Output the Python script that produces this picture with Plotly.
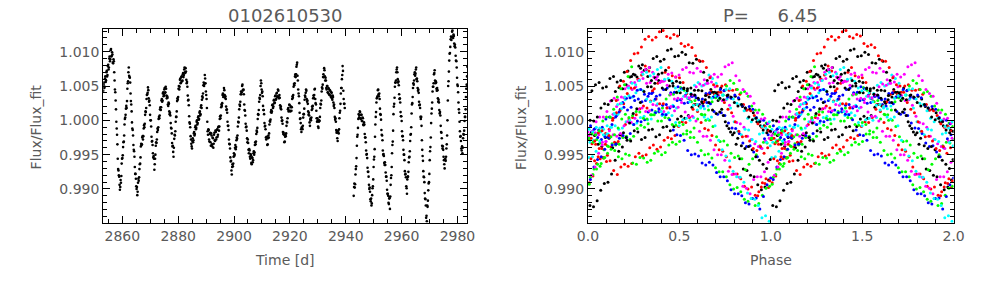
import numpy as np
import plotly.graph_objects as go

# ---------------- data ----------------
title_left = "0102610530"
title_right = "P=\u00a0\u00a0\u00a0\u00a0\u00a06.45"
period = 6.45
epoch = 2853.01         # zero point of the phase fold
cadence = 0.2544        # days between samples of one pass
seg_a_start = 2853.15   # first segment (before the gap)
seg_b_start = 2942.85   # second segment (after the gap)

# pass 1: samples at start + k*cadence
flux_a = [
    1.0043, 1.0055, 1.0049, 1.0064, 1.0058, 1.0072, 1.0066, 1.0081, 1.0077, 1.0093,
    1.0089, 1.0104, 1.0094, 1.0096, 1.0083, 1.0086, 1.0058, 1.0041, 1.0016, 0.9988,
    0.9965, 0.9929, 0.9920, 0.9906, 0.9903, 0.9909, 0.9937, 0.9945, 0.9961, 0.9969,
    0.9994, 1.0004, 1.0017, 1.0018, 1.0046, 1.0057, 1.0077, 1.0063, 1.0055, 1.0028,
    1.0013, 0.9988, 0.9978, 0.9957, 0.9947, 0.9922, 0.9915, 0.9900, 0.9891, 0.9909,
    0.9912, 0.9929, 0.9937, 0.9962, 0.9964, 0.9975, 0.9972, 0.9988, 0.9990, 1.0008,
    1.0012, 1.0031, 1.0038, 1.0048, 1.0032, 1.0029, 1.0008, 1.0000, 0.9976, 0.9970,
    0.9952, 0.9948, 0.9928, 0.9944, 0.9963, 0.9967, 0.9983, 0.9986, 1.0002, 1.0003,
    1.0016, 1.0015, 1.0029, 1.0027, 1.0039, 1.0035, 1.0045, 1.0040, 1.0049, 1.0036,
    1.0035, 1.0023, 1.0026, 1.0013, 1.0011, 0.9996, 0.9988, 0.9967, 0.9963, 0.9947,
    0.9973, 0.9978, 0.9998, 1.0005, 1.0028, 1.0030, 1.0046, 1.0045, 1.0059, 1.0054,
    1.0063, 1.0057, 1.0067, 1.0063, 1.0074, 1.0070, 1.0076, 1.0059, 1.0056, 1.0036,
    1.0030, 1.0006, 0.9995, 0.9977, 0.9966, 0.9959, 0.9974, 0.9971, 0.9983, 0.9980,
    0.9992, 0.9989, 1.0000, 0.9996, 1.0006, 1.0002, 1.0013, 1.0009, 1.0022, 1.0030,
    1.0033, 1.0051, 1.0050, 1.0066, 1.0054, 1.0037, 1.0018, 0.9984, 0.9987, 0.9972,
    0.9980, 0.9968, 0.9981, 0.9965, 0.9975, 0.9960, 0.9979, 0.9971, 0.9985, 0.9972,
    0.9986, 0.9976, 0.9990, 0.9985, 1.0002, 1.0003, 1.0019, 1.0021, 1.0037, 1.0034,
    1.0047, 1.0037, 1.0035, 1.0020, 1.0016, 0.9998, 0.9992, 0.9972, 0.9965, 0.9946,
    0.9941, 0.9921, 0.9936, 0.9937, 0.9952, 0.9950, 0.9964, 0.9961, 0.9975, 0.9978,
    0.9998, 1.0004, 1.0023, 1.0027, 1.0042, 1.0041, 1.0052, 1.0044, 1.0038, 1.0015,
    1.0007, 0.9990, 0.9985, 0.9968, 0.9967, 0.9952, 0.9956, 0.9944, 0.9949, 0.9936,
    0.9945, 0.9942, 0.9955, 0.9953, 0.9968, 0.9969, 0.9985, 0.9989, 1.0009, 1.0015,
    1.0033, 1.0037, 1.0058, 1.0045, 1.0042, 1.0021, 1.0015, 0.9996, 0.9992, 0.9975,
    0.9976, 0.9964, 0.9974, 0.9975, 0.9994, 0.9998, 1.0012, 1.0011, 1.0022, 1.0018,
    1.0029, 1.0025, 1.0035, 1.0030, 1.0039, 1.0034, 1.0045, 1.0034, 1.0037, 1.0022,
    1.0020, 1.0004, 1.0000, 0.9983, 0.9982, 0.9968, 0.9976, 0.9977, 0.9992, 0.9997,
    1.0016, 1.0013, 1.0023, 1.0014, 1.0019, 1.0014, 1.0031, 1.0033, 1.0049, 1.0051,
    1.0064, 1.0063, 1.0078, 1.0084, 1.0058, 1.0039, 1.0025, 1.0002, 0.9996, 0.9983,
    0.9989, 0.9992, 1.0009, 1.0017, 1.0036, 1.0040, 1.0043, 1.0027, 1.0024, 1.0008,
    1.0007, 0.9992, 1.0003, 1.0004, 1.0020, 1.0021, 1.0036, 1.0037, 1.0046, 1.0025,
    1.0014, 0.9998, 1.0000, 0.9989, 1.0000, 1.0005, 1.0024, 1.0029, 1.0048, 1.0052,
    1.0067, 1.0076, 1.0064, 1.0062, 1.0047, 1.0050, 1.0041, 1.0047, 1.0038, 1.0044,
    1.0036, 1.0041, 1.0032, 1.0036, 1.0026, 1.0023, 1.0005, 1.0003, 0.9986, 0.9984,
    0.9970, 0.9985, 0.9987, 1.0011, 1.0024, 1.0047, 1.0060, 1.0079, 1.0043, 1.0024,
    1.0018,
]

flux_b = [
    0.9890, 0.9908, 0.9907, 0.9929, 0.9945, 0.9976, 0.9989, 1.0009, 1.0007, 1.0012,
    1.0002, 1.0008, 0.9999, 1.0003, 0.9993, 0.9994, 0.9975, 0.9968, 0.9950, 0.9945,
    0.9925, 0.9918, 0.9900, 0.9896, 0.9882, 0.9876, 0.9891, 0.9904, 0.9932, 0.9947,
    0.9976, 1.0005, 1.0026, 1.0033, 1.0044, 1.0038, 1.0039, 1.0017, 1.0008, 0.9986,
    0.9978, 0.9956, 0.9951, 0.9938, 0.9939, 0.9924, 0.9918, 0.9899, 0.9893, 0.9880,
    0.9886, 0.9871, 0.9906, 0.9920, 0.9952, 0.9969, 1.0009, 1.0024, 1.0049, 1.0055,
    1.0070, 1.0077, 1.0060, 1.0057, 1.0038, 1.0032, 1.0012, 1.0006, 0.9984, 0.9977,
    0.9957, 0.9950, 0.9926, 0.9922, 0.9904, 0.9893, 0.9918, 0.9925, 0.9946, 0.9955,
    0.9979, 0.9990, 1.0023, 1.0034, 1.0054, 1.0058, 1.0070, 1.0068, 1.0077, 1.0061,
    1.0047, 1.0045, 1.0027, 1.0023, 1.0005, 1.0005, 0.9971, 0.9948, 0.9926, 0.9917,
    0.9894, 0.9885, 0.9858, 0.9853, 0.9874, 0.9898, 0.9910, 0.9942, 0.9961, 0.9996,
    1.0017, 1.0042, 1.0049, 1.0067, 1.0073, 1.0054, 1.0055, 1.0043, 1.0044, 1.0027,
    1.0026, 1.0010, 1.0007, 0.9983, 0.9974, 0.9959, 0.9957, 0.9942, 0.9930, 0.9944,
    0.9947, 0.9965, 1.0000, 1.0050, 1.0071, 1.0097, 1.0107, 1.0122, 1.0121, 1.0131,
    1.0120, 1.0123, 1.0108, 1.0106, 1.0087, 1.0077, 1.0052, 1.0041, 1.0016, 0.9998,
    0.9976, 0.9970, 0.9956, 0.9952, 0.9974, 0.9979, 0.9999, 1.0005, 1.0034, 1.0052,
    1.0078,
]

# pass 2: samples half a cadence later
flux_a2 = [
    1.0052, 1.0047, 1.0061, 1.0056, 1.0070, 1.0064, 1.0079, 1.0074, 1.0090, 1.0086,
    1.0102, 1.0093, 1.0099, 1.0084, 1.0089, 1.0070, 1.0045, 1.0029, 0.9998, 0.9979,
    0.9944, 0.9927, 0.9918, 0.9899, 0.9913, 0.9919, 0.9944, 0.9949, 0.9968, 0.9978,
    1.0002, 1.0008, 1.0021, 1.0028, 1.0054, 1.0070, 1.0065, 1.0062, 1.0039, 1.0023,
    0.9997, 0.9986, 0.9964, 0.9955, 0.9932, 0.9922, 0.9904, 0.9903, 0.9896, 0.9915,
    0.9917, 0.9936, 0.9946, 0.9966, 0.9965, 0.9977, 0.9977, 0.9993, 0.9995, 1.0013,
    1.0018, 1.0037, 1.0040, 1.0044, 1.0027, 1.0022, 1.0000, 0.9991, 0.9969, 0.9964,
    0.9946, 0.9944, 0.9936, 0.9950, 0.9968, 0.9972, 0.9988, 0.9990, 1.0005, 1.0007,
    1.0019, 1.0019, 1.0031, 1.0029, 1.0041, 1.0037, 1.0047, 1.0041, 1.0046, 1.0032,
    1.0033, 1.0021, 1.0024, 1.0009, 1.0007, 0.9989, 0.9981, 0.9962, 0.9954, 0.9960,
    0.9979, 0.9984, 1.0005, 1.0013, 1.0032, 1.0034, 1.0050, 1.0049, 1.0061, 1.0055,
    1.0064, 1.0058, 1.0069, 1.0066, 1.0077, 1.0069, 1.0071, 1.0054, 1.0049, 1.0029,
    1.0022, 0.9997, 0.9990, 0.9972, 0.9962, 0.9970, 0.9968, 0.9981, 0.9978, 0.9990,
    0.9987, 0.9998, 0.9994, 1.0004, 1.0001, 1.0011, 1.0007, 1.0019, 1.0018, 1.0035,
    1.0039, 1.0055, 1.0053, 1.0061, 1.0042, 1.0031, 0.9998, 0.9979, 0.9986, 0.9969,
    0.9982, 0.9963, 0.9978, 0.9962, 0.9974, 0.9966, 0.9982, 0.9970, 0.9983, 0.9975,
    0.9987, 0.9979, 0.9991, 0.9991, 1.0006, 1.0007, 1.0023, 1.0025, 1.0039, 1.0037,
    1.0044, 1.0033, 1.0031, 1.0015, 1.0011, 0.9992, 0.9986, 0.9966, 0.9959, 0.9940,
    0.9927, 0.9932, 0.9933, 0.9947, 0.9948, 0.9960, 0.9958, 0.9971, 0.9973, 0.9991,
    0.9997, 1.0016, 1.0021, 1.0038, 1.0038, 1.0050, 1.0044, 1.0045, 1.0023, 1.0014,
    0.9995, 0.9991, 0.9974, 0.9972, 0.9957, 0.9958, 0.9947, 0.9951, 0.9938, 0.9946,
    0.9939, 0.9952, 0.9950, 0.9964, 0.9965, 0.9980, 0.9983, 1.0002, 1.0008, 1.0027,
    1.0031, 1.0050, 1.0054, 1.0040, 1.0035, 1.0015, 1.0009, 0.9991, 0.9987, 0.9972,
    0.9975, 0.9965, 0.9978, 0.9981, 0.9999, 1.0001, 1.0015, 1.0013, 1.0023, 1.0020,
    1.0030, 1.0026, 1.0036, 1.0031, 1.0040, 1.0035, 1.0043, 1.0032, 1.0033, 1.0018,
    1.0016, 0.9999, 0.9995, 0.9980, 0.9979, 0.9969, 0.9979, 0.9981, 0.9998, 1.0003,
    1.0018, 1.0014, 1.0022, 1.0013, 1.0020, 1.0019, 1.0035, 1.0037, 1.0053, 1.0054,
    1.0067, 1.0067, 1.0081, 1.0065, 1.0045, 1.0035, 1.0011, 1.0003, 0.9987, 0.9990,
    0.9987, 1.0004, 1.0009, 1.0030, 1.0034, 1.0045, 1.0031, 1.0029, 1.0013, 1.0011,
    0.9997, 1.0001, 1.0000, 1.0015, 1.0017, 1.0032, 1.0033, 1.0045, 1.0031, 1.0023,
    1.0003, 1.0003, 0.9991, 0.9998, 0.9999, 1.0018, 1.0023, 1.0042, 1.0046, 1.0063,
    1.0063, 1.0073, 1.0058, 1.0058, 1.0045, 1.0050, 1.0040, 1.0046, 1.0037, 1.0043,
    1.0034, 1.0040, 1.0030, 1.0034, 1.0021, 1.0018, 1.0001, 0.9998, 0.9982, 0.9974,
    0.9982, 0.9981, 1.0003, 1.0014, 1.0039, 1.0047, 1.0066, 1.0072, 1.0031, 1.0024,
]

flux_b2 = [
    0.9903, 0.9902, 0.9921, 0.9933, 0.9963, 0.9979, 1.0002, 1.0004, 1.0013, 1.0003,
    1.0008, 0.9999, 1.0004, 0.9994, 0.9997, 0.9980, 0.9975, 0.9956, 0.9951, 0.9931,
    0.9925, 0.9906, 0.9902, 0.9885, 0.9886, 0.9879, 0.9901, 0.9914, 0.9943, 0.9958,
    0.9994, 1.0012, 1.0032, 1.0035, 1.0045, 1.0035, 1.0031, 1.0009, 1.0001, 0.9979,
    0.9971, 0.9950, 0.9948, 0.9935, 0.9935, 0.9918, 0.9912, 0.9893, 0.9890, 0.9878,
    0.9887, 0.9889, 0.9916, 0.9932, 0.9964, 0.9985, 1.0020, 1.0033, 1.0055, 1.0058,
    1.0074, 1.0070, 1.0055, 1.0051, 1.0031, 1.0026, 1.0006, 0.9999, 0.9977, 0.9971,
    0.9950, 0.9942, 0.9921, 0.9917, 0.9901, 0.9914, 0.9918, 0.9939, 0.9947, 0.9970,
    0.9980, 1.0010, 1.0025, 1.0047, 1.0052, 1.0067, 1.0065, 1.0074, 1.0060, 1.0057,
    1.0043, 1.0040, 1.0022, 1.0018, 1.0002, 0.9992, 0.9957, 0.9941, 0.9918, 0.9910,
    0.9886, 0.9876, 0.9861, 0.9876, 0.9883, 0.9908, 0.9922, 0.9955, 0.9975, 1.0010,
    1.0026, 1.0049, 1.0054, 1.0069, 1.0058, 1.0057, 1.0046, 1.0047, 1.0032, 1.0030,
    1.0015, 1.0012, 0.9992, 0.9982, 0.9963, 0.9962, 0.9947, 0.9936, 0.9943, 0.9941,
    0.9959, 0.9978, 1.0029, 1.0057, 1.0087, 1.0098, 1.0118, 1.0117, 1.0129, 1.0122,
    1.0125, 1.0112, 1.0110, 1.0094, 1.0086, 1.0062, 1.0050, 1.0026, 1.0011, 0.9984,
    0.9977, 0.9959, 0.9962, 0.9960, 0.9980, 0.9985, 1.0005, 1.0016, 1.0046, 1.0064,
]

cycle_colors = ["#000000", "#ff0000", "#00ff00", "#0000ff", "#ff00ff", "#00ffff"]
flux_ticks = [0.990, 0.995, 1.000, 1.005, 1.010]
time_ticks = [2860, 2880, 2900, 2920, 2940, 2960, 2980]
phase_ticks = [0.0, 0.5, 1.0, 1.5, 2.0]
time_range = [2853.15, 2983.55]
flux_range = [0.98509, 1.01326]
phase_range = [0.0, 2.0]

# ---------------- derived arrays ----------------
t_a = seg_a_start + cadence * np.arange(len(flux_a))
t_b = seg_b_start + cadence * np.arange(len(flux_b))
t_a2 = seg_a_start + cadence * (np.arange(len(flux_a2)) + 0.5)
t_b2 = seg_b_start + cadence * (np.arange(len(flux_b2)) + 0.5)
time = np.concatenate([t_a, t_a2, t_b, t_b2])
flux = np.concatenate([flux_a, flux_a2, flux_b, flux_b2])
order = np.argsort(time)
time = time[order]
flux = flux[order]

cycle = np.floor((time - epoch) / period).astype(int)
phase = (time - epoch) / period - cycle

px_all, py_all, pc_all = [], [], []
for c in np.unique(cycle):
    m = cycle == c
    col = cycle_colors[c % len(cycle_colors)]
    for shift in (0.0, 1.0):
        px_all.extend(list(phase[m] + shift))
        py_all.extend(list(flux[m]))
        pc_all.extend([col] * int(m.sum()))

# ---------------- figure ----------------
W, H = 992, 283


def fx(x):
    return x / W


def fy(y):
    return 1 - y / H


FONT = "DejaVu Sans"
TXT = "#5a5a5a"

fig = go.Figure()
fig.add_trace(go.Scatter(
    x=time, y=flux, mode="markers",
    marker=dict(size=2.6, color="black", line=dict(width=0)),
    xaxis="x", yaxis="y", showlegend=False, hoverinfo="skip"))
fig.add_trace(go.Scatter(
    x=px_all, y=py_all, mode="markers",
    marker=dict(size=3.0, color=pc_all, line=dict(width=0)),
    xaxis="x2", yaxis="y2", showlegend=False, hoverinfo="skip"))
# empty traces so that the mirrored tick axes are drawn
fig.add_trace(go.Scatter(x=[], y=[], xaxis="x3", yaxis="y3", showlegend=False,
                         hoverinfo="skip"))
fig.add_trace(go.Scatter(x=[], y=[], xaxis="x4", yaxis="y4", showlegend=False,
                         hoverinfo="skip"))

tickfont = dict(family=FONT, size=14, color=TXT)
base = dict(showline=True, linecolor="black", linewidth=1, mirror=True,
            ticks="inside", ticklen=7, tickwidth=1, tickcolor="black",
            showgrid=False, zeroline=False, tickfont=tickfont)


def minor(t0, dt):
    return dict(ticks="inside", ticklen=4, tickwidth=1, tickcolor="black",
                tick0=t0, dtick=dt, showgrid=False)


x1_dom = [fx(94.3), fx(466.7)]
x2_dom = [fx(590.0), fx(964.0)]
y_dom = [fy(222.7), fy(29.3)]

time_ax = dict(range=time_range, tickmode="array", tickvals=time_ticks,
               ticktext=[str(v) for v in time_ticks], minor=minor(2860, 5))
flux_ax = dict(range=flux_range, tickmode="array", tickvals=flux_ticks,
               ticktext=[f"{v:.3f}" for v in flux_ticks], minor=minor(0.990, 0.001))
phase_ax = dict(range=phase_range, tickmode="array", tickvals=phase_ticks,
                ticktext=[f"{v:.1f}" for v in phase_ticks], minor=minor(0.0, 0.1))

fig.update_layout(
    width=W, height=H,
    margin=dict(l=0, r=0, t=0, b=0),
    paper_bgcolor="white", plot_bgcolor="white",
    xaxis=dict(domain=x1_dom, anchor="y", **time_ax, **base),
    yaxis=dict(domain=y_dom, anchor="x", **flux_ax, **base),
    xaxis2=dict(domain=x2_dom, anchor="y2", **phase_ax, **base),
    yaxis2=dict(domain=y_dom, anchor="x2", **flux_ax, **base),
    # mirrored tick marks on the top and right edges (no labels)
    xaxis3=dict(overlaying="x", side="top", anchor="y3", showticklabels=False,
                **time_ax, **base),
    yaxis3=dict(overlaying="y", side="right", anchor="x3", showticklabels=False,
                **flux_ax, **base),
    xaxis4=dict(overlaying="x2", side="top", anchor="y4", showticklabels=False,
                **phase_ax, **base),
    yaxis4=dict(overlaying="y2", side="right", anchor="x4", showticklabels=False,
                **flux_ax, **base),
)

ann = [
    dict(text=title_left, x=fx(280.5), y=fy(15), size=18),
    dict(text=title_right, x=fx(777), y=fy(15), size=18),
    dict(text="Time [d]", x=fx(280.5), y=fy(260), size=14),
    dict(text="Phase", x=fx(777), y=fy(260), size=14),
]
for a in ann:
    fig.add_annotation(text=a["text"], x=a["x"], y=a["y"], xref="paper", yref="paper",
                       xanchor="center", yanchor="middle", showarrow=False,
                       font=dict(family=FONT, size=a["size"], color=TXT))
for xc in (26, 521.5):
    fig.add_annotation(text="Flux/Flux_fit", x=fx(xc), y=fy(127), xref="paper", yref="paper",
                       xanchor="center", yanchor="middle", showarrow=False, textangle=-90,
                       font=dict(family=FONT, size=14, color=TXT))

fig.write_html("out.html")
